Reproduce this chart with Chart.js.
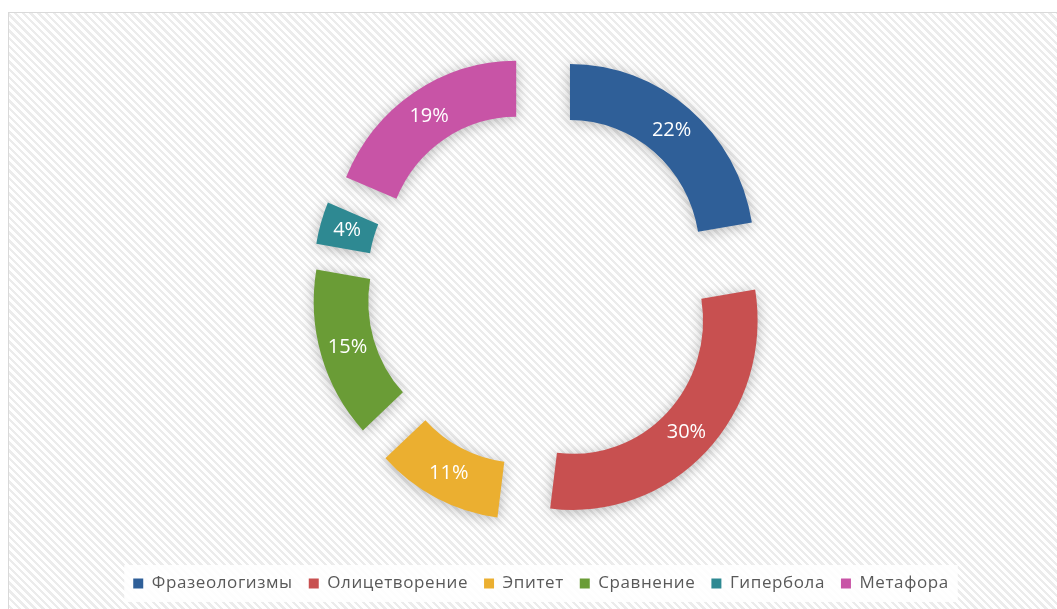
<!DOCTYPE html>
<html>
<head>
<meta charset="utf-8">
<script src="https://cdn.jsdelivr.net/npm/chart.js@4"></script>
<style>
  body { margin: 0; background: #fff; overflow: hidden; }
  #bg {
    position: absolute; left: 8px; top: 12px; width: 1100px; height: 700px;
    border: 1px solid #d9d9d9;
    background: repeating-linear-gradient(45deg, #ffffff 0px, #ffffff 3px, #ececec 3px, #ececec 5.5px);
  }
  #myChart { position: absolute; left: 0; top: 0; }
</style>
</head>
<body>
<div id="bg"></div>
<canvas id="myChart" width="1057" height="609"></canvas>
<script>
var categories = ['Фразеологизмы', 'Олицетворение', 'Эпитет', 'Сравнение', 'Гипербола', 'Метафора'];
// shares in % (labels show them rounded)
var values = [22.4, 29.6, 11.1, 14.6, 3.6, 18.7];
var colors = ['#2f5f98', '#c85050', '#ebaf30', '#6a9c36', '#2e8992', '#c854a6'];

// how far each slice is pulled out from the centre
var explode = 46;
// the picture is a touch narrower than tall
var squeeze = 0.973;

var explodePlugin = {
    id: 'explode',
    beforeLayout: function(chart) {
        chart.ctx.letterSpacing = '0.6px';
    },
    beforeDraw: function(chart) {
        chart.ctx.letterSpacing = '0.6px';
        // white backing behind the legend entries
        var lg = chart.legend;
        if (!lg || !lg.legendHitBoxes.length) return;
        var boxes = lg.legendHitBoxes;
        var minX = boxes[0].left, maxX = 0;
        boxes.forEach(function(b) {
            minX = Math.min(minX, b.left);
            maxX = Math.max(maxX, b.left + b.width);
        });
        var ctx = chart.ctx;
        ctx.save();
        ctx.fillStyle = 'rgba(255,255,255,0.9)';
        ctx.fillRect(minX - 9, lg.top + 6, maxX - minX + 18, lg.height - 6);
        ctx.restore();
    },
    beforeDatasetDraw: function(chart, args) {
        var ctx = chart.ctx;
        var meta = args.meta;
        var total = values.reduce(function(a, b) { return a + b; }, 0);
        meta.data.forEach(function(arc) {
            var mid = (arc.startAngle + arc.endAngle) / 2;
            ctx.save();
            ctx.translate(arc.x, arc.y);
            ctx.scale(squeeze, 1);
            ctx.translate(-arc.x, -arc.y);
            ctx.translate(Math.cos(mid) * explode, Math.sin(mid) * explode);
            ctx.shadowColor = 'rgba(0,0,0,0.28)';
            ctx.shadowBlur = 14;
            ctx.shadowOffsetY = 2;
            arc.draw(ctx);
            ctx.restore();
        });
        meta.data.forEach(function(arc, i) {
            var mid = (arc.startAngle + arc.endAngle) / 2;
            var p = arc.getCenterPoint();
            var lx = arc.x + squeeze * (p.x - arc.x + Math.cos(mid) * explode);
            var ly = p.y + Math.sin(mid) * explode;
            ctx.save();
            ctx.letterSpacing = '0px';
            ctx.fillStyle = '#ffffff';
            ctx.font = '20px "Open Sans"';
            ctx.textAlign = 'center';
            ctx.textBaseline = 'middle';
            ctx.fillText(Math.round(values[i] / total * 100) + '%', lx, ly);
            ctx.restore();
        });
        return false;
    }
};

var ctx = document.getElementById('myChart').getContext('2d');
var chart = new Chart(ctx, {
    type: 'doughnut',
    data: {
        labels: categories,
        datasets: [{
            data: values,
            backgroundColor: colors,
            borderWidth: 0
        }]
    },
    options: {
        responsive: false,
        animation: false,
        devicePixelRatio: 1,
        radius: 189.5,
        cutout: '70.4%',
        layout: { padding: { left: 25, right: 0, top: 18, bottom: 7 } },
        plugins: {
            legend: {
                position: 'bottom',
                labels: {
                    boxWidth: 10,
                    boxHeight: 10,
                    padding: 16,
                    color: '#595959',
                    font: { family: '"Open Sans"', size: 17 }
                }
            },
            tooltip: { enabled: false }
        }
    },
    plugins: [explodePlugin]
});
</script>
</body>
</html>
